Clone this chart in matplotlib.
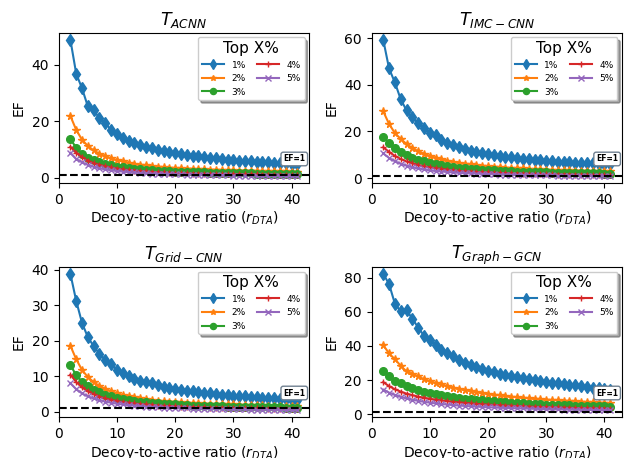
import numpy as np
import matplotlib
matplotlib.use('Agg')
import matplotlib.pyplot as plt

# rapporto decoy/attivi
ratio = list(range(2, 42))

top_labels = ['1%', '2%', '3%', '4%', '5%']
top_colors = ['tab:blue', 'tab:orange', 'tab:green', 'tab:red', 'tab:purple']
top_markers = ['d', '*', 'o', '+', 'x']
top_msize = [6.5, 5.5, 5.5, 5, 5]

# ---- T_ACNN ----
acnn_1 = [48.8, 36.8, 31.6, 25.2, 23.9, 21.0, 19.4, 16.8, 15.3, 13.9,
          13.0, 12.2, 11.6, 11.0, 10.4, 9.9, 9.5, 9.0, 8.6, 8.3,
          8.0, 7.7, 7.5, 7.2, 7.0, 6.8, 6.6, 6.4, 6.2, 6.0,
          5.9, 5.8, 5.6, 5.5, 5.4, 5.3, 5.1, 5.0, 4.9, 4.8]
acnn_2 = [21.8, 16.9, 13.4, 11.2, 9.6, 8.5, 7.6, 6.8, 6.2, 5.7,
          5.3, 4.9, 4.6, 4.3, 4.1, 3.9, 3.7, 3.5, 3.4, 3.3,
          3.2, 3.1, 3.0, 2.9, 2.8, 2.8, 2.7, 2.6, 2.6, 2.5,
          2.5, 2.4, 2.4, 2.3, 2.3, 2.2, 2.2, 2.2, 2.1, 2.1]
acnn_3 = [13.6, 10.6, 8.5, 7.1, 6.1, 5.4, 4.8, 4.3, 3.9, 3.6,
          3.3, 3.1, 2.9, 2.7, 2.6, 2.5, 2.3, 2.2, 2.1, 2.0,
          2.0, 1.9, 1.8, 1.8, 1.7, 1.7, 1.6, 1.6, 1.6, 1.5,
          1.5, 1.5, 1.4, 1.4, 1.4, 1.4, 1.3, 1.3, 1.3, 1.3]
acnn_4 = [10.9, 8.8, 7.2, 6.0, 5.1, 4.5, 4.0, 3.6, 3.2, 2.9,
          2.7, 2.5, 2.3, 2.2, 2.0, 1.9, 1.8, 1.7, 1.6, 1.6,
          1.5, 1.4, 1.4, 1.3, 1.3, 1.3, 1.2, 1.2, 1.2, 1.1,
          1.1, 1.1, 1.1, 1.0, 1.0, 1.0, 1.0, 1.0, 0.9, 0.9]
acnn_5 = [8.8, 6.6, 5.4, 4.5, 3.8, 3.3, 2.9, 2.6, 2.3, 2.1,
          1.9, 1.8, 1.6, 1.5, 1.4, 1.3, 1.3, 1.2, 1.1, 1.1,
          1.0, 1.0, 0.9, 0.9, 0.9, 0.8, 0.8, 0.8, 0.7, 0.7,
          0.7, 0.7, 0.6, 0.6, 0.6, 0.6, 0.6, 0.5, 0.5, 0.5]

# ---- T_IMC-CNN ----
imc_1 = [59.3, 47.0, 41.0, 33.8, 29.0, 26.0, 23.5, 21.5, 19.2, 18.6,
         16.3, 15.0, 14.0, 13.2, 12.5, 11.8, 11.2, 10.7, 10.3, 9.9,
         9.5, 9.2, 8.9, 8.6, 8.3, 8.1, 7.8, 7.6, 7.4, 7.2,
         7.0, 6.9, 6.7, 6.6, 6.5, 6.4, 6.3, 6.2, 6.1, 6.0]
imc_2 = [28.6, 23.2, 19.3, 16.8, 14.6, 12.9, 11.5, 10.4, 9.5, 8.8,
         8.1, 7.5, 7.0, 6.6, 6.2, 5.9, 5.6, 5.3, 5.1, 4.9,
         4.7, 4.5, 4.3, 4.2, 4.1, 3.9, 3.8, 3.7, 3.6, 3.5,
         3.4, 3.4, 3.3, 3.2, 3.2, 3.1, 3.0, 3.0, 2.9, 2.9]
imc_3 = [17.8, 15.0, 12.8, 11.2, 9.8, 8.7, 7.8, 7.1, 6.5, 6.0,
         5.5, 5.1, 4.8, 4.5, 4.2, 4.0, 3.8, 3.6, 3.4, 3.3,
         3.1, 3.0, 2.9, 2.8, 2.7, 2.6, 2.5, 2.5, 2.4, 2.3,
         2.3, 2.2, 2.2, 2.1, 2.1, 2.0, 2.0, 2.0, 1.9, 1.9]
imc_4 = [13.2, 11.2, 9.5, 8.2, 7.1, 6.3, 5.6, 5.0, 4.6, 4.2,
         3.9, 3.6, 3.3, 3.1, 2.9, 2.8, 2.6, 2.5, 2.4, 2.3,
         2.2, 2.1, 2.0, 1.9, 1.9, 1.8, 1.7, 1.7, 1.6, 1.6,
         1.5, 1.5, 1.5, 1.4, 1.4, 1.4, 1.3, 1.3, 1.3, 1.2]
imc_5 = [10.6, 8.6, 7.2, 6.1, 5.3, 4.6, 4.1, 3.7, 3.3, 3.0,
         2.8, 2.6, 2.4, 2.2, 2.1, 2.0, 1.9, 1.8, 1.7, 1.6,
         1.5, 1.5, 1.4, 1.3, 1.3, 1.2, 1.2, 1.1, 1.1, 1.1,
         1.0, 1.0, 1.0, 0.9, 0.9, 0.9, 0.8, 0.8, 0.8, 0.8]

# ---- T_Grid-CNN ----
grid_1 = [38.8, 31.2, 25.0, 21.0, 18.5, 16.3, 14.7, 13.4, 11.8, 11.0,
          10.0, 9.3, 8.8, 8.4, 8.0, 7.5, 7.1, 6.8, 6.5, 6.2,
          6.0, 5.8, 5.6, 5.4, 5.2, 5.1, 4.9, 4.8, 4.6, 4.5,
          4.4, 4.2, 4.1, 4.0, 3.9, 3.8, 3.7, 3.6, 3.5, 3.4]
grid_2 = [18.6, 14.8, 11.8, 9.8, 8.4, 7.3, 6.5, 5.8, 5.3, 4.8,
          4.4, 4.1, 3.8, 3.6, 3.4, 3.2, 3.0, 2.9, 2.8, 2.7,
          2.6, 2.5, 2.4, 2.3, 2.3, 2.2, 2.2, 2.1, 2.1, 2.0,
          2.0, 1.9, 1.9, 1.9, 1.8, 1.8, 1.8, 1.7, 1.7, 1.7]
grid_3 = [13.2, 10.3, 8.5, 7.2, 6.2, 5.5, 4.9, 4.4, 4.0, 3.6,
          3.3, 3.1, 2.9, 2.7, 2.5, 2.4, 2.3, 2.2, 2.1, 2.0,
          1.9, 1.8, 1.8, 1.7, 1.7, 1.6, 1.6, 1.5, 1.5, 1.5,
          1.4, 1.4, 1.4, 1.3, 1.3, 1.3, 1.3, 1.2, 1.2, 1.2]
grid_4 = [10.5, 8.4, 6.9, 5.8, 5.0, 4.3, 3.8, 3.4, 3.1, 2.8,
          2.6, 2.4, 2.2, 2.1, 2.0, 1.8, 1.7, 1.7, 1.6, 1.5,
          1.4, 1.4, 1.3, 1.3, 1.2, 1.2, 1.2, 1.1, 1.1, 1.1,
          1.0, 1.0, 1.0, 1.0, 0.9, 0.9, 0.9, 0.9, 0.9, 0.8]
grid_5 = [8.1, 6.4, 5.2, 4.4, 3.8, 3.3, 2.9, 2.6, 2.3, 2.1,
          1.9, 1.8, 1.6, 1.5, 1.4, 1.3, 1.2, 1.2, 1.1, 1.0,
          1.0, 0.9, 0.9, 0.9, 0.8, 0.8, 0.8, 0.7, 0.7, 0.7,
          0.7, 0.6, 0.6, 0.6, 0.6, 0.6, 0.5, 0.5, 0.5, 0.5]

# ---- T_Graph-GCN ----
gcn_1 = [82.3, 76.3, 64.8, 60.2, 61.0, 56.0, 50.8, 46.0, 43.6, 40.5,
         37.4, 35.8, 33.8, 31.8, 30.2, 28.7, 27.4, 26.3, 25.5, 24.6,
         23.8, 23.0, 22.3, 21.6, 21.0, 20.4, 19.9, 19.4, 18.9, 18.5,
         18.1, 17.6, 17.2, 16.8, 16.4, 16.0, 15.6, 15.2, 14.8, 14.4]
gcn_2 = [40.5, 35.6, 32.2, 28.4, 25.0, 23.6, 22.2, 20.4, 19.4, 18.3,
         17.4, 16.4, 15.6, 14.8, 14.1, 13.5, 12.9, 12.3, 11.8, 11.4,
         11.0, 10.6, 10.2, 9.9, 9.6, 9.3, 9.0, 8.8, 8.5, 8.3,
         8.1, 7.9, 7.7, 7.5, 7.3, 7.1, 6.9, 6.8, 6.6, 6.5]
gcn_3 = [25.4, 22.3, 19.7, 18.0, 16.5, 15.2, 14.1, 13.1, 12.4, 11.7,
         11.0, 10.5, 10.0, 9.5, 9.1, 8.7, 8.3, 8.0, 7.7, 7.4,
         7.1, 6.9, 6.7, 6.5, 6.3, 6.1, 5.9, 5.8, 5.6, 5.5,
         5.4, 5.3, 5.2, 5.0, 4.9, 4.8, 4.7, 4.6, 4.5, 4.4]
gcn_4 = [18.8, 16.4, 14.6, 13.2, 12.0, 11.1, 10.3, 9.6, 9.0, 8.5,
         8.0, 7.6, 7.2, 6.9, 6.6, 6.3, 6.0, 5.8, 5.6, 5.4,
         5.2, 5.0, 4.9, 4.7, 4.6, 4.4, 4.3, 4.2, 4.1, 4.0,
         3.9, 3.8, 3.7, 3.6, 3.5, 3.5, 3.4, 3.3, 3.2, 3.2]
gcn_5 = [14.4, 12.6, 11.2, 10.1, 9.2, 8.4, 7.8, 7.2, 6.7, 6.3,
         5.9, 5.6, 5.3, 5.0, 4.8, 4.6, 4.4, 4.2, 4.0, 3.9,
         3.7, 3.6, 3.5, 3.4, 3.3, 3.2, 3.1, 3.0, 2.9, 2.8,
         2.8, 2.7, 2.6, 2.6, 2.5, 2.5, 2.4, 2.4, 2.3, 2.3]

titoli = [r'$T_{ACNN}$', r'$T_{IMC-CNN}$', r'$T_{Grid-CNN}$', r'$T_{Graph-GCN}$']
dati = [[acnn_1, acnn_2, acnn_3, acnn_4, acnn_5],
        [imc_1, imc_2, imc_3, imc_4, imc_5],
        [grid_1, grid_2, grid_3, grid_4, grid_5],
        [gcn_1, gcn_2, gcn_3, gcn_4, gcn_5]]
tick_y = [[0, 20, 40], [0, 20, 40, 60], [0, 10, 20, 30, 40], [0, 20, 40, 60, 80]]
tick_x = [0, 10, 20, 30, 40]

fig, axs = plt.subplots(2, 2, figsize=(6.25, 4.58), dpi=100)
plt.subplots_adjust(left=0.094, right=0.995, top=0.928, bottom=0.0895,
                    wspace=0.25, hspace=0.56)

for ax, titolo, serie, ty in zip(axs.flat, titoli, dati, tick_y):
    for valori, lab, col, mk, ms in zip(serie, top_labels, top_colors, top_markers, top_msize):
        ax.plot(ratio, valori, marker=mk, color=col, label=lab,
                markersize=ms, linewidth=1.5)
    ax.axhline(1, color='black', linestyle='--', linewidth=1.5, zorder=5)
    ax.text(0.985, 0.16, 'EF=1', transform=ax.transAxes, ha='right', va='center',
            fontsize=5.5, fontweight='bold', zorder=6,
            bbox=dict(boxstyle='round,pad=0.3', facecolor='white', edgecolor='slategray'))
    ax.set_xlim(0, 43)
    ax.set_xticks(tick_x)
    ax.set_yticks(ty)
    ax.set_title(titolo, fontsize=12.5)
    ax.set_xlabel(r'Decoy-to-active ratio ($r_{DTA}$)', fontsize=10, labelpad=2)
    ax.set_ylabel('EF', fontsize=10)
    ax.tick_params(labelsize=10)
    ax.legend(loc='upper right', ncol=2, shadow=True, fontsize=6.5, markerscale=0.8,
              title='Top X%', title_fontsize=11, columnspacing=1.2, handlelength=2.5)

plt.savefig('out.png', dpi=100)
